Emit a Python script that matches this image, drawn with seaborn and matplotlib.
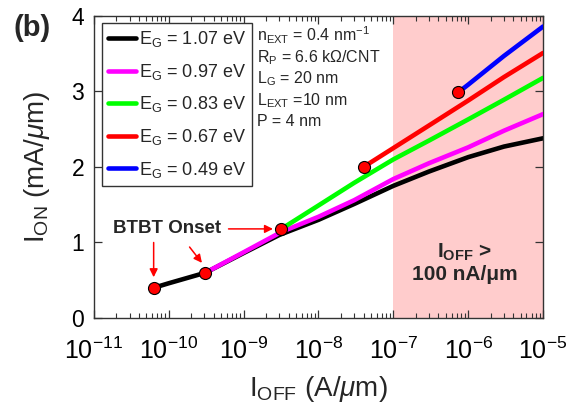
import matplotlib
matplotlib.use("Agg")
import matplotlib.pyplot as plt
import seaborn as sns
import pandas as pd
from matplotlib.lines import Line2D
from matplotlib.ticker import LogLocator, NullFormatter

# ---- data ----
labels = ["E$_\\mathrm{G}$ = 1.07 eV", "E$_\\mathrm{G}$ = 0.97 eV", "E$_\\mathrm{G}$ = 0.83 eV",
          "E$_\\mathrm{G}$ = 0.67 eV", "E$_\\mathrm{G}$ = 0.49 eV"]
colors = ["#000000", "#FF00FF", "#00FF00", "#FF0000", "#0000FF"]

ioff_107 = [6.3e-11, 1e-10, 3.1e-10, 1e-9, 3e-9, 1e-8, 3e-8, 1e-7, 3e-7, 1e-6, 3e-6, 1e-5]
ion_107 = [0.40, 0.46, 0.60, 0.86, 1.10, 1.30, 1.51, 1.75, 1.94, 2.13, 2.27, 2.38]
ioff_097 = [3.1e-10, 1e-9, 3.2e-9, 1e-8, 3e-8, 1e-7, 3e-7, 1e-6, 3e-6, 1e-5]
ion_097 = [0.60, 0.87, 1.14, 1.34, 1.56, 1.84, 2.05, 2.26, 2.48, 2.70]
ioff_083 = [3.2e-9, 1e-8, 3e-8, 1e-7, 3e-7, 1e-6, 3e-6, 1e-5]
ion_083 = [1.18, 1.49, 1.79, 2.10, 2.35, 2.63, 2.89, 3.18]
ioff_067 = [4e-8, 1e-7, 3e-7, 1e-6, 3e-6, 1e-5]
ion_067 = [2.00, 2.25, 2.55, 2.88, 3.19, 3.51]
ioff_049 = [7.4e-7, 1e-6, 3e-6, 1e-5]
ion_049 = [2.99, 3.09, 3.47, 3.86]

onset_ioff = [6.3e-11, 3.1e-10, 3.2e-9, 4e-8, 7.4e-7]
onset_ion = [0.40, 0.60, 1.18, 2.00, 2.99]

xtick_vals = [1e-11, 1e-10, 1e-9, 1e-8, 1e-7, 1e-6, 1e-5]
xtick_labels = ["10$^{-11}$", "10$^{-10}$", "10$^{-9}$", "10$^{-8}$", "10$^{-7}$", "10$^{-6}$", "10$^{-5}$"]
ytick_vals = [0, 1, 2, 3, 4]

params_text = ["n$_\\mathrm{EXT}$ = 0.4 nm$^\\mathrm{-1}$", "R$_\\mathrm{P}$ = 6.6 k\u03a9/CNT",
               "L$_\\mathrm{G}$ = 20 nm", "L$_\\mathrm{EXT}$ =10 nm", "P = 4 nm"]

series_x = [ioff_107, ioff_097, ioff_083, ioff_067, ioff_049]
series_y = [ion_107, ion_097, ion_083, ion_067, ion_049]

rows = []
for lab, xs, ys in zip(labels, series_x, series_y):
    for x, y in zip(xs, ys):
        rows.append({"Ioff": x, "Ion": y, "EG": lab})
df = pd.DataFrame(rows)

# ---- style ----
sns.set_style("ticks")
plt.rcParams["font.family"] = ["Liberation Sans", "DejaVu Sans"]
plt.rcParams["mathtext.fontset"] = "custom"
plt.rcParams["mathtext.rm"] = "Liberation Sans"
plt.rcParams["mathtext.it"] = "Liberation Sans:italic"
plt.rcParams["mathtext.bf"] = "Liberation Sans:bold"

fig = plt.figure(figsize=(5.79, 4.19), dpi=100)
ax = fig.add_axes([0.162, 0.241, 0.776, 0.721])

ax.axvspan(1e-7, 1e-5, color="#FFCCCC", zorder=0, lw=0)

for i, lab in enumerate(labels):
    sub = df[df["EG"] == lab]
    sns.lineplot(data=sub, x="Ioff", y="Ion", color=colors[i], lw=3.3, sort=False,
                 estimator=None, ax=ax, legend=False, zorder=2 + i)

sns.scatterplot(x=onset_ioff, y=onset_ion, color="red", edgecolor="black", linewidth=0.8,
                s=75, ax=ax, zorder=10, legend=False)

ax.set_xscale("log")
ax.set_xlim(1e-11, 1e-5)
ax.set_ylim(0, 4)
ax.set_xticks(xtick_vals)
ax.set_xticklabels(xtick_labels)
ax.xaxis.set_minor_locator(LogLocator(base=10, subs=range(2, 10), numticks=50))
ax.xaxis.set_minor_formatter(NullFormatter())
ax.set_yticks(ytick_vals)
ax.tick_params(axis="both", which="major", direction="in", length=6, width=0.9,
               top=True, right=True, colors="#333333", labelcolor="black")
ax.tick_params(axis="x", which="major", labelsize=18, pad=14)
ax.tick_params(axis="y", which="major", labelsize=16.5, pad=7)
ax.tick_params(axis="x", which="minor", direction="in", length=3.5, width=0.8,
               top=True, colors="#333333")
for s in ax.spines.values():
    s.set_linewidth(1.0)
    s.set_color("#333333")

ax.set_xlabel("I$_\\mathrm{OFF}$ (A/$\\mathit{\u03bc}$m)", fontsize=20, labelpad=7)
ax.set_ylabel("I$_\\mathrm{ON}$ (mA/$\\mathit{\u03bc}$m)", fontsize=20, labelpad=14)

handles = [Line2D([0], [0], color=c, lw=3.3) for c in colors]
leg = ax.legend(handles, labels, loc="upper left", bbox_to_anchor=(0.018, 0.977),
                borderaxespad=0, fontsize=13, frameon=True, fancybox=False,
                handlelength=1.55, handletextpad=0.15, labelspacing=0.70, borderpad=0.35)
leg.get_frame().set_edgecolor("#333333")
leg.get_frame().set_linewidth(1.0)
leg.get_frame().set_alpha(1)

for i, t in enumerate(params_text):
    ax.text(0.363, 0.935 - i * 0.0715, t, transform=ax.transAxes, fontsize=11.5,
            va="center", ha="left")

ax.text(9e-7, 0.73, "I$_\\mathbf{OFF}$ >\n100 nA/\u03bcm", fontsize=15, fontweight="bold",
        ha="center", va="center", linespacing=1.15)

ax.text(9.5e-11, 1.19, "BTBT Onset", fontsize=13.5, fontweight="bold", ha="center", va="center")
arrow = dict(arrowstyle="-|>", color="red", lw=1.1, mutation_scale=12, shrinkA=0, shrinkB=0)
ax.annotate("", xy=(6.3e-11, 0.54), xytext=(6.3e-11, 1.0), arrowprops=arrow)
ax.annotate("", xy=(2.78e-10, 0.73), xytext=(1.9e-10, 0.94), arrowprops=arrow)
ax.annotate("", xy=(2.47e-9, 1.18), xytext=(6.3e-10, 1.18), arrowprops=arrow)

fig.text(0.024, 0.932, "(b)", fontsize=21, fontweight="bold", ha="left", va="center")

fig.savefig("out.png", dpi=100)
